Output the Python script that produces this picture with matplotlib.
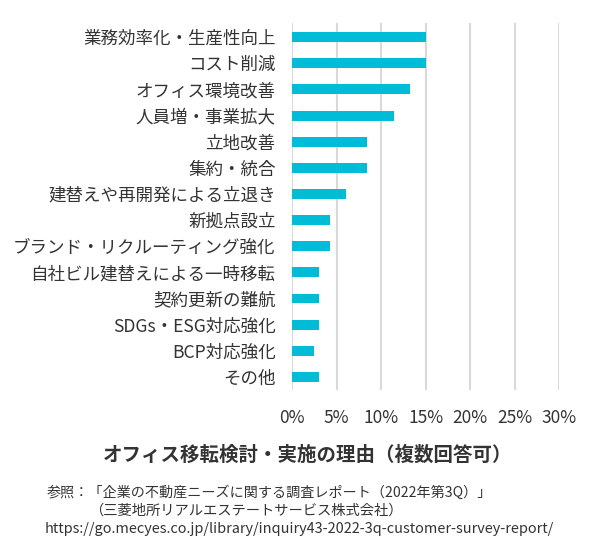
import matplotlib
matplotlib.use("Agg")
import matplotlib.pyplot as plt

plt.rcParams['font.family'] = ['Noto Sans CJK JP', 'DejaVu Sans']

categories = ["業務効率化・生産性向上", "コスト削減", "オフィス環境改善", "人員増・事業拡大",
              "立地改善", "集約・統合", "建替えや再開発による立退き", "新拠点設立",
              "ブランド・リクルーティング強化", "自社ビル建替えによる一時移転", "契約更新の難航",
              "SDGs・ESG対応強化", "BCP対応強化", "その他"]
values = [15.0, 15.0, 13.2, 11.4, 8.4, 8.4, 6.0, 4.2, 4.2, 3.0, 3.0, 3.0, 2.4, 3.0]
xticks = [0, 5, 10, 15, 20, 25, 30]
xticklabels = ["0%", "5%", "10%", "15%", "20%", "25%", "30%"]
title = "オフィス移転検討・実施の理由（複数回答可）"
note_lines = ["参照：「企業の不動産ニーズに関する調査レポート（2022年第3Q）」",
              "（三菱地所リアルエステートサービス株式会社）",
              "https://go.mecyes.co.jp/library/inquiry43-2022-3q-customer-survey-report/"]

fig = plt.figure(figsize=(6.0, 5.54), dpi=100)
ax = fig.add_axes([0.487, 0.296, 0.932 - 0.487, 0.958 - 0.296])

ypos = list(range(len(categories)))
ax.barh(ypos, values, height=0.38, color="#00BCD6", zorder=3)
ax.set_ylim(len(categories) - 0.5, -0.53)
ax.set_xlim(0, 30)
ax.set_xticks(xticks)
ax.set_xticklabels(xticklabels)
ax.set_yticks(ypos)
ax.set_yticklabels(categories)
ax.tick_params(axis='y', length=0, pad=12, labelsize=12.6, labelcolor="#333333")
ax.tick_params(axis='x', length=0, pad=14, labelsize=12.5, labelcolor="#333333")
ax.grid(axis='x', color="#d9d9d9", linewidth=1.5, zorder=0)
for s in ax.spines.values():
    s.set_visible(False)

fig.text(0.513, 1 - 455 / 554, title, ha='center', va='center', fontsize=14.0,
         fontweight='bold', color="#333333")
fig.text(0.078, 1 - 493 / 554, note_lines[0], ha='left', va='center', fontsize=10.15, color="#333333")
fig.text(0.148, 1 - 511 / 554, note_lines[1], ha='left', va='center', fontsize=10.3, color="#333333")
fig.text(0.075, 1 - 529 / 554, note_lines[2], ha='left', va='center', fontsize=10.45, color="#333333")

fig.savefig("out.png", dpi=100, facecolor="white")
